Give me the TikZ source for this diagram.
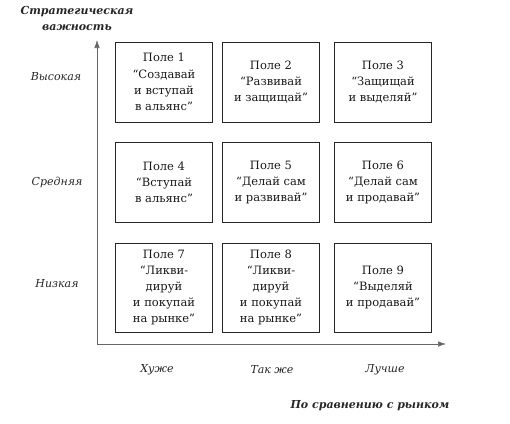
\documentclass[tikz,border=0pt]{standalone}
\usepackage{fontspec}
\setmainfont{DejaVu Serif}
\usetikzlibrary{arrows.meta}
\tikzset{
  cell/.style={draw=black!85, line width=0.8pt, minimum width=97pt, minimum height=80pt,
    align=center, inner sep=0pt, font=\fontsize{11.5}{16.2}\selectfont, text=black!90},
  axis/.style={draw=black!60, line width=0.6pt, -{Latex[length=8pt,width=5.5pt]}},
  lvl/.style={font=\fontsize{11}{14}\selectfont\itshape, text=black!85},
  ttl/.style={font=\fontsize{11}{16}\selectfont\bfseries\itshape, text=black!85, align=center}
}
\begin{document}
\begin{tikzpicture}[x=1pt,y=-1pt]
\useasboundingbox (0,0) rectangle (510,423);
% boxes
\node[cell] (b1) at (164,82) {Поле 1\\“Создавай\\и вступай\\в альянс”};
\node[cell] (b2) at (271,82) {Поле 2\\“Развивай\\и защищай”};
\node[cell] (b3) at (383,82) {Поле 3\\“Защищай\\и выделяй”};
\node[cell] (b4) at (164,182.5) {Поле 4\\“Вступай\\в альянс”};
\node[cell] (b5) at (271,182.5) {Поле 5\\“Делай сам\\и развивай”};
\node[cell] (b6) at (383,182.5) {Поле 6\\“Делай сам\\и продавай”};
\node[cell, minimum height=89pt] (b7) at (164,287.5) {Поле 7\\“Ликви-\\дируй\\и покупай\\на рынке”};
\node[cell, minimum height=89pt] (b8) at (271,287.5) {Поле 8\\“Ликви-\\дируй\\и покупай\\на рынке”};
\node[cell, minimum height=89pt] (b9) at (383,287.5) {Поле 9\\“Выделяй\\и продавай”};
% axes
\coordinate (o) at (97,344);
\coordinate (ytip) at (97,40);
\coordinate (xtip) at (446,344);
\draw[axis] (o) -- (ytip);
\draw[axis] (o) -- (xtip);
% titles
\node[ttl] (yt) at (77,18) {Стратегическая\\важность};
\node[ttl] (xt) at (370,406) {По сравнению с рынком};
% levels
\node[lvl] (l1) at (56,77) {Высокая};
\node[lvl] (l2) at (57,182) {Средняя};
\node[lvl] (l3) at (57,284) {Низкая};
\node[lvl] (c1) at (157,370) {Хуже};
\node[lvl] (c2) at (272,370) {Так же};
\node[lvl] (c3) at (385,370) {Лучше};
\end{tikzpicture}
\end{document}
